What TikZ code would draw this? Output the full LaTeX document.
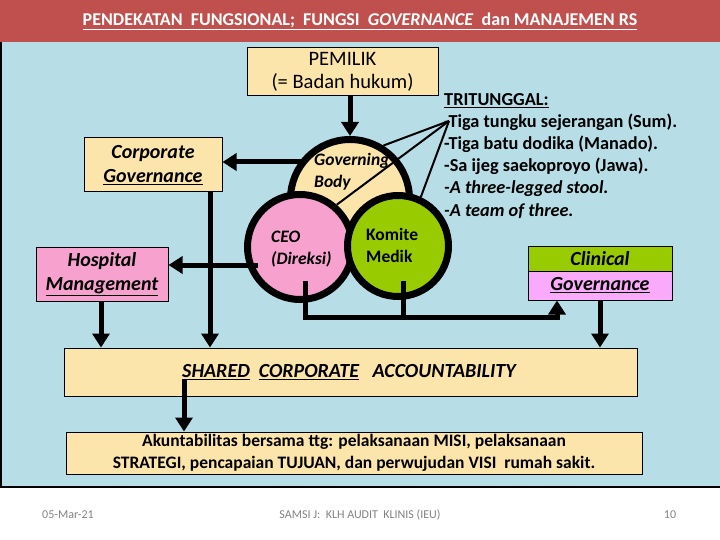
\documentclass[tikz,border=0pt]{standalone}
\usepackage{fontspec}
\setmainfont{Carlito}
\usetikzlibrary{arrows.meta}
\definecolor{hdr}{RGB}{192,80,77}
\definecolor{panel}{RGB}{183,222,230}
\definecolor{beige}{RGB}{252,229,170}
\definecolor{pinkc}{RGB}{247,162,206}
\definecolor{greenc}{RGB}{153,204,0}
\definecolor{violetc}{RGB}{250,170,250}
\definecolor{foot}{RGB}{130,130,130}
\begin{document}
\begin{tikzpicture}[x=1pt,y=-1pt,
  box/.style={draw=black, line width=1pt, inner sep=0pt},
  conn/.style={line width=5pt},
  arr/.style={conn, -{Triangle[length=14pt,width=17pt]}},
  thinl/.style={line width=2pt},
  circ/.style={draw=black, line width=7pt, circle, inner sep=0pt},
  cirtext/.style={font=\fontsize{17.5}{22}\selectfont\bfseries, align=left, anchor=west, inner sep=0pt},
  boxtext/.style={font=\fontsize{20}{24}\selectfont\bfseries\itshape, align=center},
  foottext/.style={font=\fontsize{12}{14}\selectfont, text=foot}
]
\useasboundingbox (0,0) rectangle (720,540);
\fill[white] (0,0) rectangle (720,540);
\fill[hdr] (0,0) rectangle (720,42);
\fill[panel] (0,42) rectangle (720,487);
\draw[line width=1.5pt] (0.75,42) -- (0.75,487) -- (720,487);

\node[text=white, font=\fontsize{18}{21}\selectfont\bfseries] (title) at (360,21)
  {\underline{PENDEKATAN\ \ FUNGSIONAL;\ \ FUNGSI\ \ \textit{GOVERNANCE}\ \ dan MANAJEMEN RS}};

% boxes
\node[box, fill=beige, minimum width=191pt, minimum height=48pt, align=center,
      font=\fontsize{20.5}{23}\selectfont] (pem) at (342.5,72) {PEMILIK\\(= Badan hukum)};
\node[box, fill=beige, minimum width=138pt, minimum height=54pt, boxtext] (corp) at (153,165)
  {Corporate\\\underline{Governance}};
\node[box, fill=pinkc, minimum width=132pt, minimum height=54pt, boxtext] (hosp) at (102,274)
  {Hospital\\\underline{Management}};
\node[box, fill=greenc, minimum width=144pt, minimum height=25pt, boxtext] (clinT) at (600,258.5)
  {Clinical};
\node[box, fill=violetc, minimum width=144pt, minimum height=29pt, boxtext] (clinB) at (600,285.5)
  {\underline{Governance}};
\node[box, fill=beige, minimum width=573pt, minimum height=48pt] (shared) at (350.5,372) {};
\node[font=\fontsize{20}{24}\selectfont\bfseries\itshape, anchor=west, inner sep=0pt] (sharedtxt) at (182,372)
  {\underline{SHARED}\ \ \underline{CORPORATE}\ \ \ ACCOUNTABILITY};
\node[box, fill=beige, minimum width=576pt, minimum height=42pt, align=center,
      font=\fontsize{17.5}{22}\selectfont\bfseries] (akun) at (354,453)
  {Akuntabilitas bersama ttg: pelaksanaan MISI, pelaksanaan\\STRATEGI, pencapaian TUJUAN, dan perwujudan VISI\ \ rumah sakit.};

% circles
\node[circ, fill=beige, minimum size=119pt] (gov) at (350,199) {};
\node[circ, fill=pinkc, minimum size=105pt] (ceo) at (300,247) {};
\node[circ, fill=greenc, minimum size=101pt] (kom) at (398,246) {};
\node[cirtext, font=\fontsize{17.5}{22}\selectfont\bfseries\itshape] (govt) at (314,172) {Governing\\Body};
\node[cirtext, font=\fontsize{17.5}{22}\selectfont\bfseries\itshape] (ceot) at (271,249) {CEO\\(Direksi)};
\node[cirtext] (komt) at (366,245) {Komite\\Medik};

% TRITUNGGAL text
\node[font=\fontsize{18.3}{22.2}\selectfont\bfseries, align=left, anchor=north west, inner sep=0pt] (tri) at (444,93)
  {\underline{TRITUNGGAL:}\\-Tiga tungku sejerangan (Sum).\\-Tiga batu dodika (Manado).\\-Sa ijeg saekoproyo (Jawa).\\\textit{-A three-legged stool.}\\\textit{-A team of three.}};
\coordinate (tp) at (449,121);
\draw[thinl] (tp) -- (gov.58);
\draw[thinl] (tp) -- (ceo.49);
\draw[thinl] (tp) -- (kom.65);

% connectors
\draw[arr] (pem.south -| gov.north) -- (gov.north);
\coordinate (gL) at (302,162);
\draw[arr] (gL) -- (gL -| corp.east);
\coordinate (cL) at (258,265);
\draw[arr] (cL) -- (cL -| hosp.east);
\coordinate (corpB) at (210,192);
\draw[arr] (corpB) -- (corpB |- shared.north);
\coordinate (hospB) at (101,301);
\draw[arr] (hospB) -- (hospB |- shared.north);
\coordinate (cB) at (305,281);
\coordinate (kB) at (403,281);
\coordinate (c1) at (305,317);
\coordinate (c2) at (557,317);
\draw[arr] (cB) -- (c1) -- (c2) -- (c2 |- clinB.south);
\draw[conn] (kB) -- (kB |- c1);
\draw[arr] (clinB.south) -- (clinB.south |- shared.north);
\coordinate (sB) at (184,379);
\draw[arr] (sB) -- (sB |- akun.north);

% footer
\node[foottext] (date) at (68,515) {05-Mar-21};
\node[foottext] (mid) at (360,515) {SAMSI J:\ \ KLH AUDIT\ \ KLINIS (IEU)};
\node[foottext] (page) at (670,515) {10};
\end{tikzpicture}
\end{document}
